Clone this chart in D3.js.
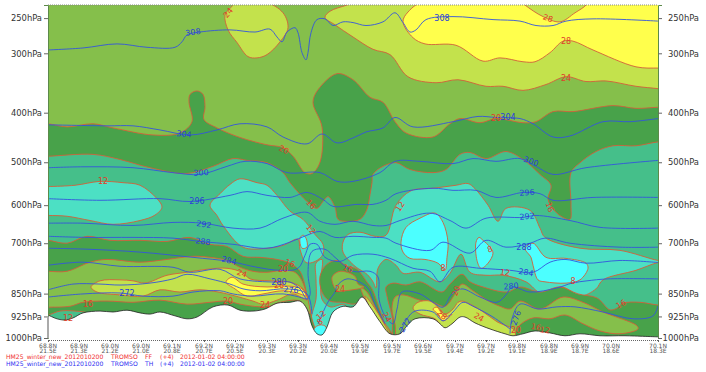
<!DOCTYPE html>
<html>
<head>
<meta charset="utf-8">
<script src="https://cdn.jsdelivr.net/npm/d3@7"></script>
<style>
  html, body { margin: 0; background: #fff; }
  svg { display: block; font-family: "DejaVu Sans", sans-serif; }
</style>
</head>
<body>
<div id="chart"></div>
<script>
// cross section along the track, every point is [distance along section, pressure hPa]
const pressureTicks = [250, 300, 400, 500, 600, 700, 850, 925, 1000]
const sectionTicks = [0, 31, 62, 93, 124, 156, 187, 219, 250, 281, 312, 344, 375, 407, 438, 469, 501, 532, 563, 610]
const latLabels = ['68.8N', '68.9N', '69.0N', '69.0N', '69.1N', '69.2N', '69.2N', '69.3N', '69.3N', '69.4N', '69.5N', '69.5N', '69.6N', '69.7N', '69.7N', '69.8N', '69.8N', '69.9N', '70.0N', '70.1N']
const lonLabels = ['21.5E', '21.3E', '21.2E', '21.0E', '20.8E', '20.7E', '20.5E', '20.3E', '20.2E', '20.0E', '19.9E', '19.7E', '19.5E', '19.4E', '19.2E', '19.1E', '18.9E', '18.7E', '18.6E', '18.3E']

// wind speed (FF) regions, lower numbers are the band's lower limit
const ff24TopLeft = [[177,246],[183,236],[189,229],[217,229],[235,243],[240,263],[232,283],[219,302],[209,307],[200,305],[189,284],[180,266]]
const ff24TopRight = [[277,249],[282,241],[299,233],[312,227],[620,227],[620,359],[610,357],[588,353],[558,344],[538,345],[518,337],[498,350],[475,360],[455,353],[438,353],[410,342],[388,347],[360,337],[342,302],[325,294],[305,276],[287,259]]
const ff28Top = [[378,227],[360,242],[355,255],[365,277],[377,286],[408,288],[435,312],[452,307],[475,313],[487,313],[502,299],[515,282],[525,282],[545,295],[588,321],[610,323],[620,323],[620,227],[540,227],[538,233],[527,243],[512,255],[495,248],[477,233],[472,227]]
const ff16Upper = [[-10,421],[0,421],[19,427],[45,421],[65,429],[105,443],[132,439],[144,417],[141,381],[142,367],[149,361],[155,367],[157,389],[156,413],[169,429],[192,448],[219,463],[235,469],[245,487],[257,523],[264,525],[272,500],[274,427],[265,381],[270,359],[289,332],[305,342],[322,372],[335,381],[347,417],[358,439],[385,447],[402,421],[412,411],[432,419],[448,411],[475,419],[488,417],[505,398],[525,398],[565,387],[588,392],[610,390],[620,390],[620,1030],[-10,1030]]
const ff12Main = [[-10,487],[0,487],[45,483],[72,494],[102,512],[139,525],[165,509],[185,492],[199,496],[219,501],[235,523],[242,546],[260,593],[269,608],[275,591],[280,579],[287,605],[290,636],[297,641],[312,636],[319,610],[322,574],[324,546],[325,527],[335,509],[348,501],[362,516],[385,523],[398,516],[412,483],[422,479],[438,492],[458,477],[475,494],[492,527],[503,552],[500,586],[507,615],[515,631],[522,636],[523,598],[523,523],[532,501],[548,477],[565,465],[588,465],[610,457],[620,457],[620,1030],[-10,1030]]
const ff8Left = [[-10,555],[0,555],[27,552],[52,543],[75,546],[92,552],[109,584],[114,605],[107,625],[92,639],[65,649],[42,639],[19,628],[0,626],[-10,626]]
const ff8Centre = [[162,600],[172,572],[182,550],[192,537],[209,546],[219,552],[229,576],[242,615],[255,636],[267,676],[275,703],[275,731],[267,752],[258,755],[252,717],[250,689],[235,706],[219,714],[195,711],[175,652],[169,626]]
const ff8Valley = [[268,757],[274,746],[273,804],[274,868],[282,893],[297,887],[297,1030],[264,1030],[263,933],[268,868],[268,804]]
const ff8Right = [[295,697],[300,676],[312,670],[327,681],[338,678],[348,600],[363,565],[385,559],[408,552],[420,548],[427,560],[440,600],[450,641],[458,608],[482,613],[492,659],[497,684],[532,714],[572,720],[610,749],[620,752],[610,755],[588,778],[555,807],[548,835],[532,858],[514,829],[493,848],[478,813],[455,793],[438,793],[422,784],[413,731],[402,787],[392,813],[372,784],[355,787],[348,763],[338,746],[330,772],[328,832],[325,813],[319,790],[307,766],[295,725]]
const ff0Spot1 = [[353,697],[358,657],[372,633],[387,620],[395,644],[400,697],[399,740],[397,778],[390,757],[377,746],[362,743],[355,725]]
const ff0Spot2 = [[428,697],[431,684],[435,692],[442,711],[445,728],[440,757],[433,772],[429,749]]
const ff0Spot3 = [[477,714],[485,700],[498,740],[518,743],[538,757],[540,772],[532,807],[518,817],[497,813],[490,807],[485,763],[483,740]]
const ff0Spot4 = [[252,686],[255,678],[258,686],[259,711],[254,714]]
const ff0Valley = [[266,968],[272,954],[278,961],[276,1030],[268,1030]]
const ff16LowLeft = [[-10,692],[0,692],[19,700],[39,681],[62,692],[92,692],[119,695],[142,684],[162,703],[179,709],[195,737],[212,740],[229,746],[242,757],[252,781],[257,826],[260,878],[264,933],[268,1030],[-10,1030]]
const ff20LowLeft = [[-10,781],[0,781],[19,781],[42,754],[59,746],[92,754],[119,746],[145,737],[162,740],[179,749],[192,769],[205,781],[219,784],[235,778],[247,784],[254,810],[259,858],[262,915],[252,874],[232,878],[222,891],[212,893],[192,884],[179,874],[162,878],[139,884],[112,871],[85,878],[59,874],[35,878],[22,891],[0,894],[-10,894]]
const ff24LowLeft = [[43,829],[52,810],[72,807],[85,810],[97,817],[119,793],[139,784],[159,775],[179,772],[194,784],[202,804],[222,810],[242,814],[255,835],[259,870],[245,851],[229,871],[215,884],[205,874],[175,848],[152,838],[132,845],[112,838],[95,858],[72,854],[49,845]]
const ff28LowLeft = [[178,814],[184,799],[195,820],[219,829],[239,826],[254,835],[258,858],[252,851],[235,841],[215,851],[199,858],[187,835]]
const ff12Ground = [[-10,920],[0,920],[12,907],[27,907],[40,917],[32,968],[0,968],[-10,968]]
const ff16Ridge = [[272,796],[279,760],[289,749],[299,766],[309,775],[319,814],[324,835],[337,950],[344,990],[332,1010],[315,878],[305,884],[295,878],[282,874],[274,845]]
const ff20Ridge = [[284,799],[292,781],[307,796],[310,820],[316,829],[297,841],[289,841]]
const ff20Slope = [[313,832],[319,845],[332,927],[342,982],[332,1010],[317,871]]
const ff24Slope = [[317,858],[324,884],[336,950],[340,985],[332,1010],[320,884]]
const ff16LowRight = [[339,858],[338,829],[345,817],[358,823],[372,813],[394,845],[402,820],[414,790],[422,813],[435,829],[459,845],[472,829],[492,845],[512,829],[530,851],[549,864],[562,903],[569,897],[575,881],[592,878],[610,887],[620,887],[620,1030],[350,1030],[344,923]]
const ff20LowRight = [[347,861],[355,854],[372,871],[385,878],[397,891],[407,851],[414,820],[425,841],[439,871],[452,891],[462,900],[472,874],[492,900],[515,861],[535,878],[555,910],[589,957],[590,968],[572,985],[552,975],[535,950],[517,920],[502,933],[485,930],[472,954],[464,1000],[452,1030],[352,1030],[347,950],[344,900]]
const ff24LowRight = [[365,897],[370,878],[382,874],[390,894],[397,917],[405,900],[410,878],[414,874],[422,884],[434,907],[449,943],[467,975],[465,1007],[449,982],[425,950],[415,933],[405,950],[397,968],[387,933],[372,917]]
const ff28LowRight = [[385,900],[389,894],[394,917],[397,927],[404,917],[395,940],[390,917]]

const terrain = [[0,920],[9,933],[17,937],[25,930],[35,913],[52,907],[65,910],[79,904],[92,913],[102,917],[112,910],[127,923],[139,933],[149,927],[165,893],[180,887],[192,904],[205,907],[217,900],[229,881],[242,878],[252,874],[259,900],[264,957],[269,985],[274,989],[279,961],[285,910],[295,891],[305,893],[314,861],[322,893],[332,943],[342,985],[352,985],[359,957],[367,933],[385,933],[392,950],[397,964],[404,950],[412,927],[417,927],[427,947],[442,968],[457,985],[465,992],[475,985],[487,975],[502,982],[517,992],[532,985],[552,992],[577,992],[610,996]]

// potential temperature (TH) isolines
const th308 = [[0,295],[35,292],[69,286],[99,291],[127,291],[134,283],[139,273],[152,269],[182,266],[207,269],[222,265],[229,276],[234,283],[239,269],[247,263],[250,270],[254,299],[258,310],[260,299],[263,270],[269,252],[277,251],[285,260],[295,255],[305,256],[318,260],[335,255],[347,243],[355,256],[362,269],[368,266],[378,252],[405,248],[445,252],[472,254],[488,260],[505,260],[518,254],[545,251],[610,254]]
const th304 = [[0,423],[59,425],[85,425],[112,433],[142,443],[169,433],[192,421],[219,427],[235,447],[259,461],[274,441],[289,459],[305,449],[318,437],[335,429],[347,409],[365,427],[405,417],[430,407],[448,409],[472,411],[485,421],[505,447],[522,445],[555,417],[582,417],[610,411]]
const th300 = [[0,512],[35,510],[85,512],[125,523],[152,527],[179,509],[197,498],[219,503],[239,523],[272,523],[289,543],[305,543],[332,523],[347,498],[372,498],[405,503],[425,492],[448,498],[472,492],[488,509],[505,527],[538,512],[610,496]]
const th296 = [[0,584],[52,588],[112,584],[142,591],[182,576],[199,567],[219,576],[242,581],[259,569],[275,586],[285,603],[309,598],[325,598],[338,588],[348,572],[385,559],[405,564],[428,564],[448,581],[475,569],[492,572],[505,588],[545,581],[610,581]]
const th292 = [[0,646],[35,646],[85,652],[125,644],[155,646],[185,659],[212,659],[235,633],[259,618],[272,641],[287,649],[305,641],[325,652],[338,652],[352,639],[382,620],[402,639],[418,659],[438,633],[475,631],[488,626],[522,639],[552,657],[610,659]]
const th288 = [[0,681],[39,684],[85,684],[125,686],[152,695],[185,703],[219,714],[242,697],[259,678],[272,668],[287,684],[305,681],[325,684],[338,686],[348,700],[382,720],[395,697],[422,728],[438,692],[458,711],[482,700],[497,686],[522,700],[572,711],[610,711]]
const th284 = [[0,714],[42,717],[92,725],[145,740],[182,752],[209,769],[232,778],[250,772],[257,734],[262,703],[269,703],[277,740],[292,752],[305,734],[325,731],[342,743],[365,772],[382,781],[392,813],[405,769],[432,772],[462,778],[485,784],[502,754],[517,746],[538,757],[572,749],[610,755]]
const th280 = [[0,763],[35,754],[72,766],[125,769],[142,784],[172,775],[192,804],[227,814],[242,814],[252,835],[259,868],[262,854],[260,784],[264,723],[277,717],[287,740],[305,781],[322,781],[330,798],[331,868],[337,923],[345,950],[349,900],[354,845],[372,851],[385,878],[395,894],[404,851],[414,835],[432,861],[449,878],[458,854],[464,829],[482,845],[509,832],[524,817],[539,810],[560,804],[610,804]]
const th276Left = [[0,838],[25,820],[52,820],[72,823],[102,817],[125,804],[139,790],[162,804],[182,820],[195,835],[212,841],[239,835],[259,851],[264,917]]
const th276Mid = [[270,950],[280,877],[287,845],[289,826],[299,804],[319,829],[327,884],[337,950]]
const th276Right = [[462,985],[464,933],[472,884],[490,900],[509,893],[527,893],[555,910],[585,933],[605,923],[610,890]]
const th272Left = [[0,861],[35,851],[72,848],[95,858],[125,858],[145,845],[172,841],[185,851],[205,858],[235,851],[259,868]]
const th272Right = [[352,985],[359,933],[367,907],[385,910],[395,940],[405,910],[415,878],[425,891],[445,927],[462,968]]

// [text, distance, pressure, rotation]
const ffLabels = [['24',180,243,-50],['20',236,473,25],['12',55,543,0],['28',500,250,20],['28',518,282,0],['24',518,339,0],['20',448,411,0],['16',502,605,70],['16',263,598,45],['12',263,662,50],['12',352,603,-55],['8',395,772,0],['8',442,717,-20],['12',457,784,10],['8',525,810,0],['16',573,884,-30],['16',242,757,20],['20',235,775,0],['24',194,787,20],['16',40,884,0],['12',20,930,0],['20',180,874,0],['24',217,887,0],['28',231,823,0],['12',273,920,-40],['8',272,943,-40],['16',300,772,20],['24',292,835,0],['20',408,841,-70],['24',431,927,30],['28',394,920,40],['20',468,972,0],['16',488,961,10],['12',497,972,10],['24',339,927,60]]
const thLabels = [['308',145,269,-8],['304',136,441,5],['300',153,523,-3],['296',149,591,0],['292',156,649,8],['288',155,695,8],['284',181,749,15],['280',231,814,0],['276',243,838,5],['272',79,848,0],['308',394,250,0],['304',460,409,0],['300',483,498,20],['296',479,569,-3],['292',479,628,-5],['288',476,711,0],['284',478,784,10],['280',463,826,-5],['276',468,930,-70],['272',357,954,-60]]

const colors = {
  ff0: '#4cffff', ff8: '#4ce0c4', ff12: '#45bf8a', ff16: '#48a24a',
  ff20: '#85bf4b', ff24: '#c3e24c', ff28: '#ffff4c',
  contour: '#d2603a', th: '#3355dd'
}

// painter's order, later ones sit on top
const regions = [
  [ff24TopLeft, colors.ff24], [ff24TopRight, colors.ff24], [ff28Top, colors.ff28],
  [ff16Upper, colors.ff16], [ff12Main, colors.ff12],
  [ff8Left, colors.ff8], [ff8Centre, colors.ff8], [ff8Valley, colors.ff8], [ff8Right, colors.ff8],
  [ff0Spot1, colors.ff0], [ff0Spot2, colors.ff0], [ff0Spot3, colors.ff0], [ff0Spot4, colors.ff0],
  [ff16LowLeft, colors.ff16], [ff20LowLeft, colors.ff20], [ff24LowLeft, colors.ff24], [ff28LowLeft, colors.ff28],
  [ff12Ground, colors.ff12],
  [ff16Ridge, colors.ff16], [ff20Ridge, colors.ff20], [ff20Slope, colors.ff20], [ff24Slope, colors.ff24],
  [ff0Valley, colors.ff0],
  [ff16LowRight, colors.ff16], [ff20LowRight, colors.ff20], [ff24LowRight, colors.ff24], [ff28LowRight, colors.ff28]
]
const thLines = [th308, th304, th300, th296, th292, th288, th284, th280, th276Left, th276Mid, th276Right, th272Left, th272Right]

const width = 706
const height = 372
const margin = { top: 5, right: 48, bottom: 34, left: 48 }
const plotW = width - margin.left - margin.right
const plotH = height - margin.top - margin.bottom

const xScale = d3.scaleLinear().domain([0, 610]).range([0, plotW])
const yScale = d3.scalePow().exponent(0.286).domain([233, 1000]).range([0, plotH])

const svg = d3.select('#chart').append('svg').attr('width', width).attr('height', height)
svg.append('defs').append('clipPath').attr('id', 'plot').append('rect').attr('width', plotW).attr('height', plotH)

const g = svg.append('g').attr('transform', `translate(${margin.left},${margin.top})`)
const plot = g.append('g').attr('clip-path', 'url(#plot)')

plot.append('rect').attr('width', plotW).attr('height', plotH).attr('fill', colors.ff20)

const closedLine = d3.line().x(d => xScale(d[0])).y(d => yScale(d[1])).curve(d3.curveCatmullRomClosed.alpha(0.5))
plot.selectAll('.region').data(regions).enter().append('path')
  .attr('class', 'region')
  .attr('d', d => closedLine(d[0]))
  .attr('fill', d => d[1])
  .attr('stroke', colors.contour)
  .attr('stroke-width', 0.9)

// ground is blanked out in white below the terrain line
const groundArea = d3.area().x(d => xScale(d[0])).y0(plotH + 10).y1(d => yScale(d[1])).curve(d3.curveCatmullRom.alpha(0.5))
const groundLine = d3.line().x(d => xScale(d[0])).y(d => yScale(d[1])).curve(d3.curveCatmullRom.alpha(0.5))
plot.append('path').attr('d', groundArea(terrain)).attr('fill', '#fff')

const thLine = d3.line().x(d => xScale(d[0])).y(d => yScale(d[1])).curve(d3.curveCatmullRom.alpha(0.5))
plot.selectAll('.th').data(thLines).enter().append('path')
  .attr('class', 'th')
  .attr('d', thLine)
  .attr('fill', 'none')
  .attr('stroke', colors.th)
  .attr('stroke-width', 0.9)

plot.append('path').attr('d', groundLine(terrain)).attr('fill', 'none').attr('stroke', '#222').attr('stroke-width', 0.8)

function drawLabels(list, color) {
  plot.selectAll(null).data(list).enter().append('text')
    .attr('transform', d => `translate(${xScale(d[1])},${yScale(d[2])}) rotate(${d[3]})`)
    .attr('text-anchor', 'middle')
    .attr('dy', '0.35em')
    .attr('font-size', 8)
    .attr('fill', color)
    .text(d => d[0])
}
drawLabels(ffLabels, '#e0402a')
drawLabels(thLabels, '#2a3fd8')

// axes, the labels on both sides end at the same x
const leftAxis = d3.axisLeft(yScale).tickValues(pressureTicks).tickFormat(d => d + 'hPa').tickSize(4).tickPadding(2)
const rightAxis = d3.axisRight(yScale).tickValues(pressureTicks).tickFormat(d => d + 'hPa').tickSize(4)
const bottomAxis = d3.axisBottom(xScale).tickValues(sectionTicks).tickFormat('').tickSize(2)

const gl = g.append('g').call(leftAxis)
const gr = g.append('g').attr('transform', `translate(${plotW},0)`).call(rightAxis)
;[gl, gr].forEach(a => {
  a.select('.domain').attr('stroke', '#5c8a4a').attr('stroke-width', 1)
  a.selectAll('line').attr('stroke', '#666')
  a.selectAll('text').attr('font-size', 8.4).attr('fill', '#333').attr('font-family', '"DejaVu Sans", sans-serif')
})
gr.selectAll('text').attr('text-anchor', 'end').attr('x', 41)
gl.append('line').attr('y1', yScale(925)).attr('y2', plotH).attr('stroke', '#aaa').attr('stroke-width', 2)

const gb = g.append('g').attr('transform', `translate(0,${plotH + 2})`).call(bottomAxis)
gb.select('.domain').attr('stroke', '#666').attr('stroke-dasharray', '1,1')
gb.selectAll('line').attr('stroke', '#666')

g.append('line').attr('x2', plotW).attr('stroke', '#888').attr('stroke-dasharray', '1,1')

const tickText = g.append('g').attr('transform', `translate(0,${plotH})`)
  .attr('fill', '#555').attr('font-size', 6).attr('text-anchor', 'middle')
tickText.selectAll('.lat').data(sectionTicks).enter().append('text')
  .attr('x', d => xScale(d)).attr('y', 9.5).text((d, i) => latLabels[i])
tickText.selectAll('.lon').data(sectionTicks).enter().append('text')
  .attr('x', d => xScale(d)).attr('y', 14.5).text((d, i) => lonLabels[i])

// run info lines under the chart
const footerCols = [6, 111, 145, 160, 180]
const footerFF = ['HM25_winter_new_2012010200', 'TROMSO', 'FF', '(+4)', '2012-01-02 04:00:00']
const footerTH = ['HM25_winter_new_2012010200', 'TROMSO', 'TH', '(+4)', '2012-01-02 04:00:00']
function drawFooter(texts, y, color) {
  svg.selectAll(null).data(texts).enter().append('text')
    .attr('x', (d, i) => footerCols[i])
    .attr('y', y)
    .attr('font-size', 6.1)
    .attr('fill', color)
    .text(d => d)
}
drawFooter(footerFF, 358.5, '#f03030')
drawFooter(footerTH, 365.5, '#3030f0')
</script>
</body>
</html>
